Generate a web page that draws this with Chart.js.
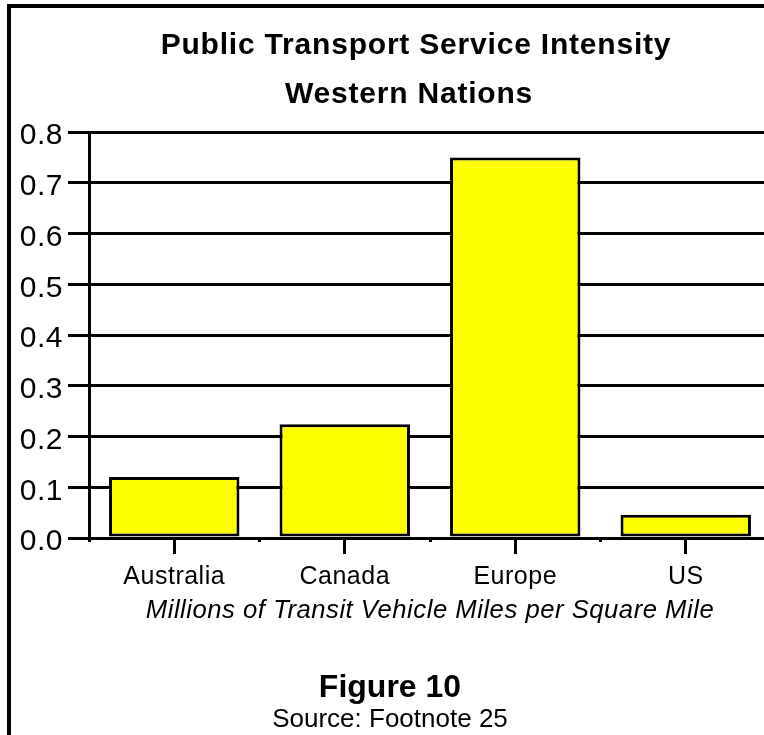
<!DOCTYPE html>
<html>
<head>
<meta charset="utf-8">
<script src="https://cdn.jsdelivr.net/npm/chart.js@4"></script>
<style>
  html, body { margin: 0; padding: 0; background: #fff; overflow: hidden; }
  body { width: 764px; height: 735px; position: relative; }
  .frame {
    position: absolute; left: 7px; top: 4px; width: 900px; height: 900px;
    border-left: 4px solid #000; border-top: 4px solid #000;
  }
  .chart-box { position: absolute; left: 0; top: 0; width: 790px; height: 735px; }
</style>
</head>
<body>
<div class="frame"></div>
<div class="chart-box"><canvas id="intensity"></canvas></div>
<script>
const categories = ['Australia', 'Canada', 'Europe', 'US'];
const intensity = [0.12, 0.224, 0.75, 0.046];
const yTickLabels = ['0.0', '0.1', '0.2', '0.3', '0.4', '0.5', '0.6', '0.7', '0.8'];
const titleLines = ['Public Transport Service Intensity', 'Western Nations'];
const unitsLabel = 'Millions of Transit Vehicle Miles per Square Mile';
const captionLines = ['Figure 10', 'Source: Footnote 25'];

const FONT = "'Liberation Sans', Arial, Helvetica, sans-serif";

// slightly open letter spacing for all chart text
const spacingPlugin = {
    id: 'spacing',
    beforeDraw(chart) {
        chart.ctx.letterSpacing = '0.5px';
    }
};

// heading above the plot and figure caption below it
const figureTextPlugin = {
    id: 'figureText',
    afterDraw(chart) {
        const ctx = chart.ctx;
        ctx.save();
        ctx.fillStyle = '#000';
        ctx.textAlign = 'center';
        ctx.textBaseline = 'alphabetic';
        ctx.letterSpacing = '0.8px';
        ctx.font = 'bold 30px ' + FONT;
        ctx.fillText(titleLines[0], 416, 54);
        ctx.fillText(titleLines[1], 409, 103);
        ctx.letterSpacing = '0px';
        ctx.font = 'bold 32px ' + FONT;
        ctx.fillText(captionLines[0], 390, 697);
        ctx.font = '26px ' + FONT;
        ctx.fillText(captionLines[1], 390, 727);
        ctx.restore();
    }
};

function initChart() {
    new Chart(document.getElementById('intensity'), {
        type: 'bar',
        data: {
            labels: categories,
            datasets: [{
                data: intensity,
                backgroundColor: '#ffff00',
                borderColor: '#000',
                borderWidth: 3,
                borderSkipped: false,
                categoryPercentage: 1,
                barPercentage: 0.765
            }]
        },
        options: {
            responsive: true,
            maintainAspectRatio: false,
            animation: false,
            events: [],
            layout: { padding: { left: 10, right: 19, top: 132, bottom: 97 } },
            plugins: {
                legend: { display: false },
                tooltip: { enabled: false },
                title: { display: false }
            },
            scales: {
                x: {
                    offset: true,
                    grid: { offset: false, drawOnChartArea: false, tickLength: 16, lineWidth: 3, color: '#000' },
                    border: { display: true, width: 3, color: '#000' },
                    ticks: { color: '#000', padding: 8, font: { family: FONT, size: 25 } },
                    title: {
                        display: true,
                        text: unitsLabel,
                        color: '#000',
                        font: { family: FONT, size: 25.7, style: 'italic' },
                        padding: { top: 0, bottom: 12 }
                    },
                    afterFit(scale) { scale.height = 100; }
                },
                // short marks between the categories
                x2: {
                    axis: 'x',
                    type: 'category',
                    position: { y: 0 },
                    offset: true,
                    grid: { offset: true, drawOnChartArea: false, tickLength: 4, lineWidth: 3, color: '#000' },
                    border: { display: false },
                    ticks: { display: false }
                },
                y: {
                    min: 0,
                    max: 0.8,
                    ticks: {
                        stepSize: 0.1,
                        color: '#000',
                        padding: 5,
                        labelOffset: 4,
                        font: { family: FONT, size: 30 },
                        callback: (value, index) => yTickLabels[index]
                    },
                    grid: { color: '#000', lineWidth: 3, tickLength: 21 },
                    border: { display: true, width: 3, color: '#000' },
                    afterFit(scale) { scale.width = 79; }
                }
            }
        },
        plugins: [spacingPlugin, figureTextPlugin]
    });
}

initChart();
</script>
</body>
</html>
